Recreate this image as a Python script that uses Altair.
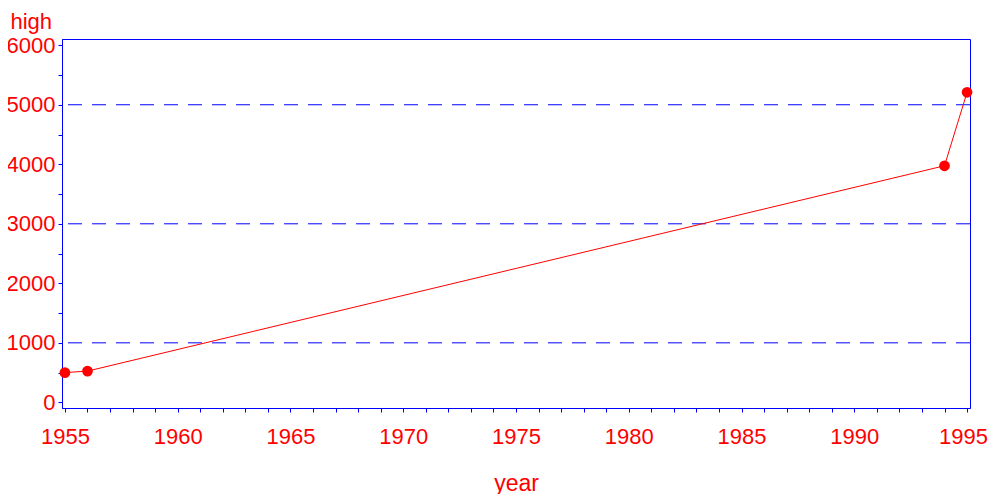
import altair as alt
import pandas as pd

years = [1955, 1956, 1994, 1995]
high = [500, 525, 3975, 5210]
ref_values = [1000, 3000, 5000]
x_ticks = list(range(1955, 1996))
y_ticks = list(range(0, 6001, 500))

df = pd.DataFrame({"year": years, "high": high})
refs = pd.DataFrame({"ref": ref_values})

RED = "#ff0000"
BLUE = "#0000ff"
FONT = "Liberation Sans"

x_scale = alt.Scale(domain=[1954.87, 1995.13], nice=False, zero=False)
y_scale = alt.Scale(domain=[-95, 6105], nice=False, zero=False)

x_axis = alt.Axis(
    values=x_ticks,
    labelExpr="datum.value % 5 == 0 ? datum.value : ''",
    labelOffset={"condition": {"test": "datum.value == 1995", "value": -4}, "value": 0},
    labelPadding=14, labelFont=FONT, labelFontSize=22,
    title="year", titlePadding=25, titleFont=FONT, titleFontSize=23,
)
y_axis = alt.Axis(
    values=y_ticks,
    labelExpr="datum.value % 1000 == 0 ? datum.value : ''",
    labelPadding=3, labelFont=FONT, labelFontSize=22,
    title="high", titleAngle=0, titleAlign="left", titleFont=FONT, titleFontSize=22,
    titleBaseline="alphabetic", titleX=-52, titleY=-11,
)

rules = alt.Chart(refs).mark_rule(color=BLUE, strokeWidth=1, strokeDash=[14, 10]).encode(
    y=alt.Y("ref:Q", scale=y_scale, axis=y_axis)
)

line = alt.Chart(df).mark_line(color=RED, strokeWidth=1).encode(
    x=alt.X("year:Q", scale=x_scale, axis=x_axis),
    y=alt.Y("high:Q", scale=y_scale, axis=y_axis),
)
points = alt.Chart(df).mark_circle(color=RED, size=115, opacity=1).encode(
    x=alt.X("year:Q", scale=x_scale, axis=x_axis),
    y=alt.Y("high:Q", scale=y_scale, axis=y_axis),
)

chart = alt.layer(rules, line, points).properties(
    width=908, height=369,
    background="white",
    autosize=alt.AutoSizeParams(type="none"),
    padding={"left": 54, "top": 31, "right": 18, "bottom": 86},
).configure_view(
    stroke=BLUE, strokeWidth=1
).configure_axis(
    grid=False, domainColor=BLUE, tickColor=BLUE, tickSize=4,
    labelColor=RED, labelFlush=False, labelOverlap=False, labelBound=False,
    titleColor=RED, titleFontWeight="normal",
)

chart.save("out.html", embed_options={"renderer": "svg", "actions": False})
